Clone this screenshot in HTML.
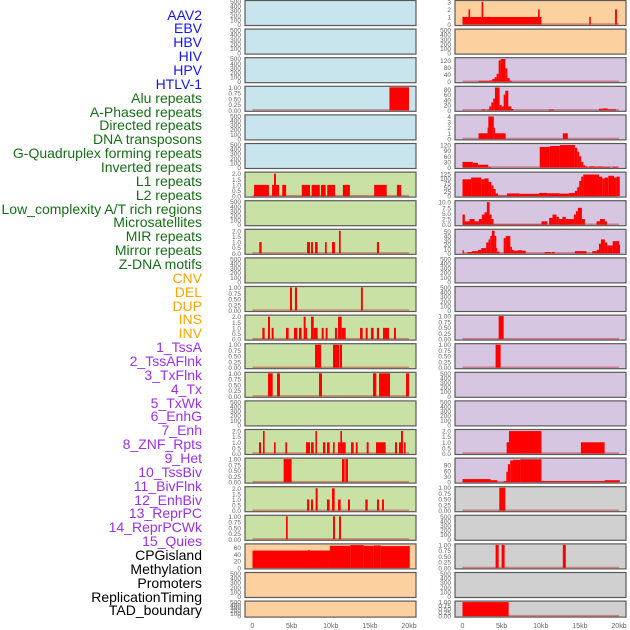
<!DOCTYPE html>
<html><head><meta charset="utf-8"><style>
body{margin:0;background:#fff;width:630px;height:630px;overflow:hidden;font-family:"Liberation Sans",sans-serif}
#lab div{position:absolute;right:428px;font-size:14px;line-height:14px;white-space:nowrap}
</style></head><body>
<div id="lab"></div>
<svg id="ch" width="630" height="630" style="position:absolute;left:0;top:0"></svg>
<script>
const labels=["AAV2","EBV","HBV","HIV","HPV","HTLV-1","Alu repeats","A-Phased repeats","Directed repeats","DNA transposons","G-Quadruplex forming repeats","Inverted repeats","L1 repeats","L2 repeats","Low_complexity A/T rich regions","Microsatellites","MIR repeats","Mirror repeats","Z-DNA motifs","CNV","DEL","DUP","INS","INV","1_TssA","2_TssAFlnk","3_TxFlnk","4_Tx","5_TxWk","6_EnhG","7_Enh","8_ZNF_Rpts","9_Het","10_TssBiv","11_BivFlnk","12_EnhBiv","13_ReprPC","14_ReprPCWk","15_Quies","CPGisland","Methylation","Promoters","ReplicationTiming","TAD_boundary"];
const labelGroups=[6,13,5,15,5];
const groupColors=["#1414ff","#157015","#ffa500","#9b30f0","#000"];
const xTicks=[0,5,10,15,20];
const xTickLabels=["0","5kb","10kb","15kb","20kb"];
const ticksEmpty=[0,100,200,300,400,500];
const ticks1=[0,0.25,0.5,0.75,1];
const ticks2=[0,0.5,1,1.5,2];
// segments: [startKb, endKb, value]
const L_AAV2=[],L_EBV=[],L_HBV=[],L_HPV=[],L_HTLV=[],L_APhased=[],L_DNAtr=[],L_LowC=[],L_DEL=[],L_DUP=[];
const L_HIV=[[17.5,20,1]];
const L_Alu=[[0.2,2.1,1],[2.5,3.4,1],[2.75,3.0,2],[3.8,4.3,1],[6.3,7.35,1],[7.55,8.6,1],[8.75,9.35,1],[9.55,10.55,1],[11.55,12.45,1],[15.55,17.15,1],[18.45,19.0,1]];
const L_Directed=[[0.87,1.17,1],[6.97,7.35,1],[7.48,7.73,1],[7.99,8.33,1],[9.27,9.48,1],[10.16,10.54,1],[11.05,11.27,2],[15.9,16.17,1]];
const L_GQuad=[[4.79,5.05,1],[5.43,5.69,1],[13.86,14.1,1]];
const L_Inverted=[[1.26,1.55,1],[1.98,2.24,2],[2.45,2.7,1],[4.28,4.62,1],[5.3,5.73,1],[5.94,6.28,1],[6.54,6.79,2],[6.79,6.97,1],[7.48,7.82,2],[7.82,8.33,1],[8.84,9.1,1],[9.35,9.6,1],[10.54,10.8,1],[10.93,11.4,2],[11.4,11.91,1],[13.74,14.08,1],[14.46,14.72,1],[15.14,15.48,1],[15.9,16.17,1],[16.68,17.44,1],[18.08,18.33,1]];
const L_L1=[[7.99,8.76,1],[10.29,11.1,1],[11.18,11.44,1]];
const L_L2=[[1.98,2.58,1],[3.13,3.51,1],[8.5,8.88,1],[15.4,15.83,1],[16.17,17.57,1],[19.62,20.0,1]];
const L_Micro=[[0.83,1.09,1],[1.34,1.55,2],[2.75,2.96,1],[4.2,4.41,1],[6.84,7.35,1],[7.48,7.82,1],[8.04,8.24,2],[9.01,9.31,1],[9.52,9.86,1],[10.29,10.5,1],[10.93,11.23,1],[11.23,11.44,2],[11.44,11.91,1],[12.59,12.93,1],[13.2,13.44,1],[14.59,14.84,1],[15.78,17.02,1],[18.21,18.47,1],[18.72,18.98,1],[18.98,19.23,2],[19.36,19.57,1]];
const L_MIR=[[3.98,5.0,1],[11.44,11.78,1],[11.87,12.2,1]];
const L_Mirror=[[6.97,7.26,1],[7.48,7.73,1],[8.07,8.33,2],[9.52,9.86,1],[10.16,10.5,2],[10.93,11.27,1],[12.2,12.46,1],[14.42,14.72,1],[15.91,16.17,1],[16.55,16.8,1]];
const L_ZDNA=[[4.28,4.5,1],[10.29,10.54,1],[11.06,11.31,1]];
const L_CNV=[[0,9.9,51],[7.1,7.3,53],[9.9,12.5,65],[12.5,14.2,67],[14.2,15.5,65],[15.5,16.4,66],[16.4,20.1,64]];
const R_INS=[[0,10.09,1],[0.77,0.98,2],[2.44,2.65,3],[9.66,9.87,2],[16.2,16.4,1],[19.5,19.74,2]];
const R_INV=[],R_8=[],R_9=[],R_12=[],R_13=[],R_Quies=[],R_Meth=[];
const R_TssA=[[2.05,3.46,5],[3.46,3.8,7],[3.8,4.1,15],[4.1,4.36,25],[4.36,4.62,45],[4.62,4.87,120],[4.87,5.47,128],[5.47,5.73,75],[5.73,6.03,20],[6.03,6.28,5]];
const R_TssAFlnk=[[2.44,2.95,3],[3.16,3.42,3],[3.42,3.68,15],[3.68,3.93,30],[3.93,4.15,45],[4.15,4.74,87],[4.74,5.0,20],[5.0,5.26,15],[5.26,5.47,60],[5.47,5.85,75],[5.85,6.24,15],[6.24,6.5,5],[11.03,11.67,3],[17.44,17.9,6],[17.9,18.55,7],[18.55,18.93,4],[18.93,19.62,4]];
const R_TxFlnk=[[2.05,3.2,1],[3.2,3.3,2],[3.3,4.0,4],[4.0,4.15,2],[4.15,5.51,1],[12.82,13.46,1]];
const R_Tx=[[0,1.32,30],[1.32,1.97,25],[1.97,3.29,15],[3.29,3.68,3],[9.87,11.15,110],[11.15,12.44,115],[12.44,14.36,120],[14.36,14.66,105],[14.66,14.91,85],[14.91,15.17,60],[15.17,15.43,30],[15.43,15.68,12],[15.68,15.94,6],[15.94,16.2,2],[16.2,16.88,6],[16.88,17.35,4],[17.35,17.9,5],[17.9,18.85,3],[19.19,19.79,4]];
const R_TxWk=[[0,1.11,95],[1.11,2.39,105],[2.39,2.82,95],[2.82,3.33,100],[3.33,3.68,80],[3.68,3.97,60],[3.97,4.23,40],[4.23,4.53,15],[4.53,5.68,3],[5.68,7.31,15],[7.31,9.79,13],[9.79,10.81,18],[10.81,12.44,16],[12.44,13.63,14],[13.63,14.36,18],[14.36,14.66,30],[14.66,14.91,50],[14.91,15.17,85],[15.17,15.43,110],[15.43,17.44,122],[17.44,17.86,110],[17.86,18.2,100],[18.2,18.63,105],[18.63,19.36,115],[19.36,19.7,105],[19.7,20.1,110]];
const R_EnhG=[[0,0.3,4.5],[0.3,0.9,1.5],[0.9,1.54,2.5],[1.54,2.09,1.5],[2.09,2.48,2.5],[2.48,2.82,4.5],[2.82,3.12,5.5],[3.12,3.46,10],[3.46,3.72,4.5],[3.72,3.97,2.5],[3.97,10.09,0.2],[10.09,10.85,1.5],[11.07,11.5,3],[11.5,12.0,4.5],[12.0,12.31,3.5],[12.31,12.78,2.5],[12.78,13.2,3.5],[13.2,14.23,2.5],[14.23,14.49,4.5],[14.49,14.74,6],[14.74,15.26,7.5],[15.26,15.64,2.5],[17.14,17.56,1.5],[17.56,18.2,2.5],[18.2,18.46,1.5]];
const R_Enh=[[0,0.17,7],[0.64,1.2,3],[1.2,1.97,5],[1.97,2.39,8],[2.39,3.03,12],[3.03,3.33,25],[3.33,3.55,32],[3.55,3.76,40],[3.76,4.1,52],[4.1,4.32,40],[4.32,4.44,12],[4.44,4.74,4],[5.26,5.51,35],[5.51,6.11,40],[6.11,6.32,15],[6.32,6.54,8],[6.54,7.09,6],[7.09,7.65,7],[7.65,8.08,6],[10.51,11.28,3],[11.41,11.79,3],[14.36,15.85,5],[16.58,17.14,5],[17.14,17.44,8],[17.44,17.69,22],[17.69,18.2,32],[18.2,18.5,25],[18.5,19.19,18],[19.19,20.0,28],[20.0,20.13,20]];
const R_EnhA1=[[4.62,5.26,1]];
const R_EnhA2=[[4.23,4.87,1]];
const R_TssBiv=[[5.64,5.94,1],[5.94,10.09,2],[15.13,18.16,1]];
const R_BivFlnk=[[0,3.59,16],[3.59,4.44,10],[5.26,5.6,5],[5.6,5.8,55],[5.8,6.1,95],[6.1,6.45,115],[6.45,7.4,118],[7.4,10.09,121],[10.09,18.16,5],[18.16,20.1,10]];
const R_EnhBiv=[[4.7,5.47,1]];
const R_CPG=[[4.23,4.62,1],[5.0,5.38,1],[12.82,13.2,1]];
const R_TAD=[[0,5.9,1]];

const leftCol=[[L_AAV2,0,ticksEmpty,"#c8e4ec"],[L_EBV,0,ticksEmpty,"#c8e4ec"],[L_HBV,0,ticksEmpty,"#c8e4ec"],[L_HIV,1,ticks1,"#c8e4ec"],[L_HPV,0,ticksEmpty,"#c8e4ec"],[L_HTLV,0,ticksEmpty,"#c8e4ec"],
[L_Alu,2.05,ticks2,"#c9e1a5"],[L_APhased,0,ticksEmpty,"#c9e1a5"],[L_Directed,2.05,ticks2,"#c9e1a5"],[L_DNAtr,0,ticksEmpty,"#c9e1a5"],[L_GQuad,1,ticks1,"#c9e1a5"],[L_Inverted,2.05,ticks2,"#c9e1a5"],[L_L1,1,ticks1,"#c9e1a5"],[L_L2,1,ticks1,"#c9e1a5"],[L_LowC,0,ticksEmpty,"#c9e1a5"],[L_Micro,2.05,ticks2,"#c9e1a5"],[L_MIR,1,ticks1,"#c9e1a5"],[L_Mirror,2.05,ticks2,"#c9e1a5"],[L_ZDNA,1,ticks1,"#c9e1a5"],
[L_CNV,67.6,[0,20,40,60],"#fdd09f"],[L_DEL,0,ticksEmpty,"#fdd09f"],[L_DUP,0,ticksEmpty,"#fdd09f"]];
const rightCol=[[R_INS,3.05,[0,1,2,3],"#fdd09f"],[R_INV,0,ticksEmpty,"#fdd09f"],
[R_TssA,130,[0,40,80,120],"#d6c6e2"],[R_TssAFlnk,88,[0,20,40,60,80],"#d6c6e2"],[R_TxFlnk,4.1,[0,1,2,3,4],"#d6c6e2"],[R_Tx,123,[0,30,60,90,120],"#d6c6e2"],[R_TxWk,130,[0,25,50,75,100,125],"#d6c6e2"],[R_EnhG,10.2,[0,2.5,5,7.5,10],"#d6c6e2"],[R_Enh,53,[0,10,20,30,40,50],"#d6c6e2"],[R_8,0,ticksEmpty,"#d6c6e2"],[R_9,0,ticksEmpty,"#d6c6e2"],[R_EnhA1,1,ticks1,"#d6c6e2"],[R_EnhA2,1,ticks1,"#d6c6e2"],[R_12,0,ticksEmpty,"#d6c6e2"],[R_13,0,ticksEmpty,"#d6c6e2"],[R_TssBiv,2.05,ticks2,"#d6c6e2"],[R_BivFlnk,122,[0,30,60,90],"#d6c6e2"],
[R_EnhBiv,1,ticks1,"#d0d0d0"],[R_Quies,0,ticksEmpty,"#d0d0d0"],[R_CPG,1,ticks1,"#d0d0d0"],[R_Meth,0,ticksEmpty,"#d0d0d0"],[R_TAD,1,ticks1,"#d0d0d0"]];

const NS="http://www.w3.org/2000/svg";
const svg=document.getElementById('ch');
function mk(t,a,p){const e=document.createElementNS(NS,t);for(const k in a)e.setAttribute(k,a[k]);(p||svg).appendChild(e);return e;}
function fmt(v,ticks){const d=ticks.some(t=>t%1&&((t*10)%1))?2:(ticks.some(t=>t%1)?1:0);if(ticks===ticks1)return v.toFixed(2);if(ticks===ticks2)return v.toFixed(1);return ticks.some(t=>t%1)?v.toFixed(1):String(v);}

// labels
const lab=document.getElementById('lab');
let gi=0,gc=0;
labels.forEach((t,i)=>{const d=document.createElement('div');d.textContent=t;


while(gc>=labelGroups[gi]){gi++;gc=0;}gc++;
d.style.color=groupColors[gi];d.style.top=(15+i*13.86-7.5)+'px';lab.appendChild(d);});

function drawPanel(col,row,spec,name){
  const [segs,ymax,ticks,fill]=spec;
  const px=col?455:245, pw=171;
  const top=row*28.6+0.5, h=row===21?16:25;
  const x0=px+7.5, x1=px+164;
  const xs=kb=>x0+(kb/20)*(x1-x0);
  const g=mk('g',{});
  
  
  const bg=mk('rect',{x:px,y:top,width:pw,height:h,fill:fill,stroke:'#5a5a5a','stroke-width':1.2},g);
  
  
  const ym=ymax||500;
  const ys=v=>top+h-1-(v/ym)*(h-2);
  ticks.forEach(t=>{const tx=mk('text',{x:px-4,y:ys(t)+2.5,'font-size':6.5,fill:'#666','text-anchor':'end'},g);tx.textContent=fmt(t,ticks);
    
    });
  if(segs.length){
    const bl=mk('rect',{x:xs(0),y:top+h-2.2,width:xs(20)-xs(0),height:1.6,fill:'rgba(190,40,40,0.45)'},g);
    
    
  }
  segs.forEach(s=>{const a=xs(s[0]),b=Math.max(xs(s[1]),a+1);const y=ys(Math.min(s[2],ym));
    const r=mk('rect',{x:a,y:y,width:b-a,height:top+h-1-y,fill:'#ff0000'},g);
    
    });
  if(row===21){xTicks.forEach((k,i)=>{const tx=mk('text',{x:xs(k),y:628,'font-size':7,fill:'#666','text-anchor':'middle'},g);tx.textContent=xTickLabels[i];
    
    });}
}
leftCol.forEach((s,i)=>drawPanel(0,i,s,labels[i]));
rightCol.forEach((s,i)=>drawPanel(1,i,s,labels[22+i]));
</script>
</body></html>
